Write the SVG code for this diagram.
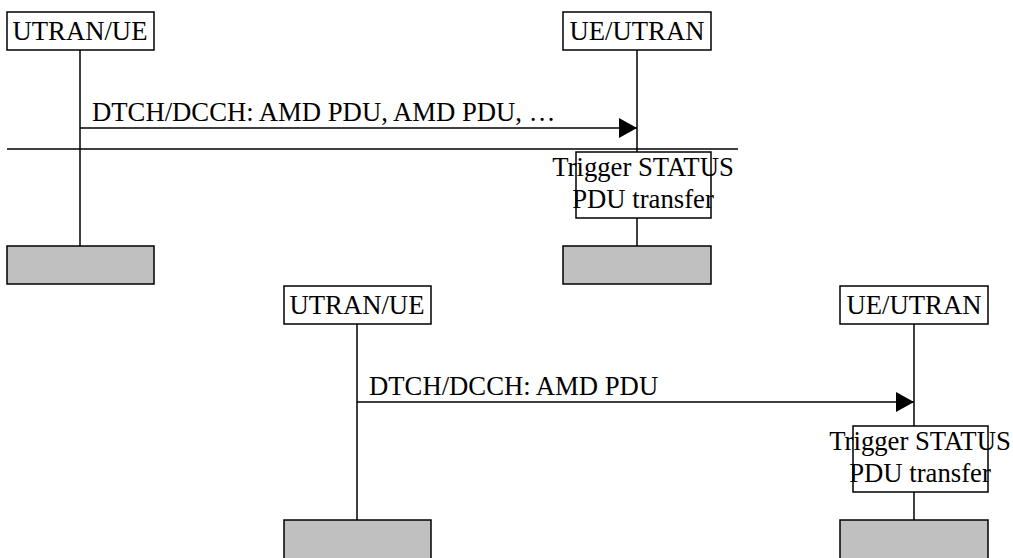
<svg xmlns="http://www.w3.org/2000/svg" width="1013" height="558" viewBox="0 0 1013 558">
  <style>
    .box { fill: #ffffff; stroke: #000000; stroke-width: 1.5; }
    .end { fill: #c0c0c0; stroke: #000000; stroke-width: 1.5; }
    .life { stroke: #000000; stroke-width: 1.5; fill: none; }
    .msg { stroke: #000000; stroke-width: 1.5; fill: none; }
    text { font-family: "Liberation Serif", "Times New Roman", serif; font-size: 26.7px; fill: #000000; }
    .c { text-anchor: middle; }
  </style>
  <defs>
    <marker id="arrow" markerUnits="userSpaceOnUse" markerWidth="19" markerHeight="20" refX="18" refY="10" orient="auto">
      <path d="M0,0 L18,10 L0,20 Z" fill="#000000"/>
    </marker>
  </defs>

  <!-- lifelines, messages and the separator rule -->
  <g id="connectors">
    <line class="life" x1="80" y1="50" x2="80" y2="246"/>
    <line class="life" x1="637" y1="50" x2="637" y2="152"/>
    <line class="life" x1="637" y1="218" x2="637" y2="246"/>
    <line class="msg" x1="80" y1="128" x2="637" y2="128" marker-end="url(#arrow)"/>
    <line class="msg" x1="7" y1="149" x2="738" y2="149"/>

    <line class="life" x1="357" y1="324" x2="357" y2="520"/>
    <line class="life" x1="914" y1="324" x2="914" y2="426"/>
    <line class="life" x1="914" y1="492" x2="914" y2="520"/>
    <line class="msg" x1="357" y1="402" x2="914" y2="402" marker-end="url(#arrow)"/>
  </g>

  <g id="msg1-label">
    <text x="92" y="121">DTCH/DCCH: AMD PDU, AMD PDU, …</text>
  </g>
  <g id="msg2-label">
    <text x="369" y="395">DTCH/DCCH: AMD PDU</text>
  </g>

  <!-- first exchange: several AMD PDUs -->
  <g id="sender1">
    <rect class="box" x="7" y="12" width="147" height="38"/>
    <text class="c" x="80" y="40">UTRAN/UE</text>
  </g>
  <g id="receiver1">
    <rect class="box" x="563" y="12" width="148" height="38"/>
    <text class="c" x="637" y="40">UE/UTRAN</text>
  </g>
  <g id="trigger1">
    <rect class="box" x="576" y="152" width="135" height="66"/>
    <text class="c" x="643" y="176">Trigger STATUS</text>
    <text class="c" x="643" y="208">PDU transfer</text>
  </g>
  <g id="sender1-end">
    <rect class="end" x="7" y="246" width="147" height="38"/>
  </g>
  <g id="receiver1-end">
    <rect class="end" x="563" y="246" width="148" height="38"/>
  </g>

  <!-- second exchange: a single AMD PDU -->
  <g id="sender2">
    <rect class="box" x="284" y="286" width="147" height="38"/>
    <text class="c" x="357" y="314">UTRAN/UE</text>
  </g>
  <g id="receiver2">
    <rect class="box" x="840" y="286" width="148" height="38"/>
    <text class="c" x="914" y="314">UE/UTRAN</text>
  </g>
  <g id="trigger2">
    <rect class="box" x="853" y="426" width="135" height="66"/>
    <text class="c" x="920" y="450">Trigger STATUS</text>
    <text class="c" x="920" y="482">PDU transfer</text>
  </g>
  <g id="sender2-end">
    <rect class="end" x="284" y="520" width="147" height="40"/>
  </g>
  <g id="receiver2-end">
    <rect class="end" x="840" y="520" width="148" height="40"/>
  </g>
</svg>
